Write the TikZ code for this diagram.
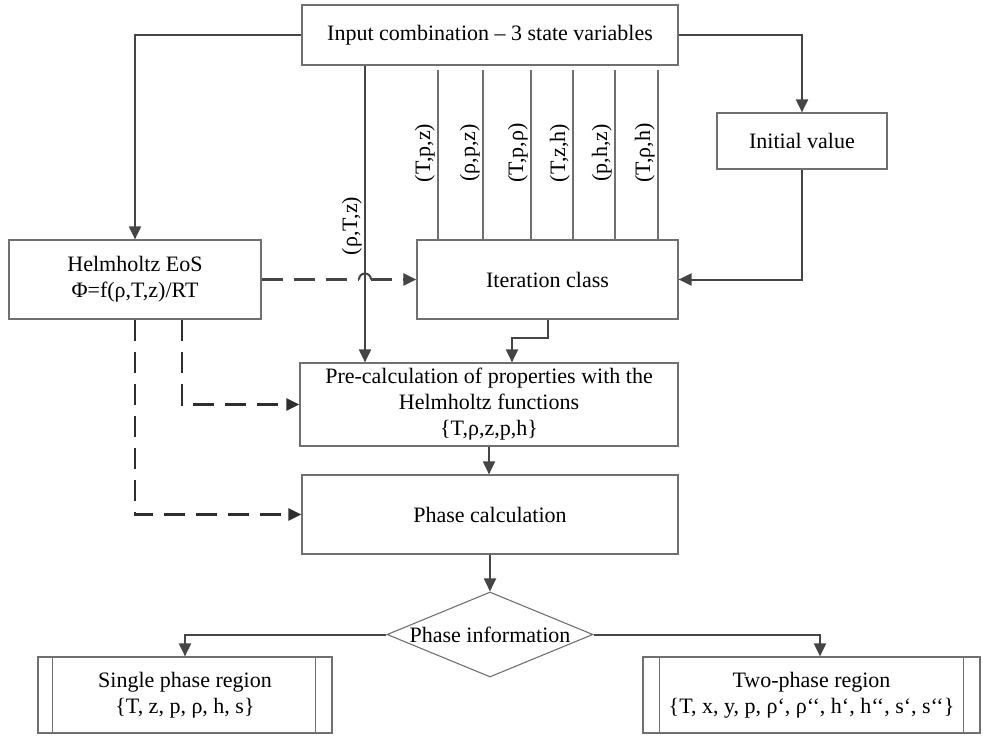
\documentclass[tikz,border=0pt]{standalone}
\usepackage{fontspec}
\setmainfont{Liberation Serif}
\usetikzlibrary{arrows.meta,shapes.geometric,calc}

\definecolor{boxgray}{HTML}{707070}
\definecolor{linegray}{HTML}{454545}
\definecolor{dashgray}{HTML}{2E2E2E}

\begin{document}
\begin{tikzpicture}[x=1pt,y=-1pt,
  font=\fontsize{22}{26}\selectfont,
  box/.style={draw=boxgray,line width=1.2pt,align=center,inner sep=0pt},
  conn/.style={draw=linegray,line width=2pt,-{Triangle[length=13pt,width=12pt]}},
  plain/.style={draw=boxgray,line width=1.1pt},
  dashln/.style={draw=dashgray,line width=2.6pt,dash pattern=on 21pt off 11pt},
  dashconn/.style={dashln,-{Triangle[length=13pt,width=12pt]}},
  vlab/.style={rotate=90,anchor=south,inner sep=2pt}]

\useasboundingbox (0,0) rectangle (983,736);

% process boxes
\node[box,minimum width=376pt,minimum height=60pt] (in) at (490,35) {Input combination – 3 state variables};
\node[box,minimum width=252pt,minimum height=79pt] (hh) at (135,279.5) {Helmholtz EoS\\Φ=f(ρ,T,z)/RT};
\node[box,minimum width=261pt,minimum height=79pt] (it) at (547.5,279.5) {Iteration class};
\node[box,minimum width=170pt,minimum height=56pt] (iv) at (802,141) {Initial value};
\node[box,minimum width=378pt,minimum height=83pt] (pre) at (489,404.5) {Pre-calculation of properties with the\\Helmholtz functions\\\{T,ρ,z,p,h\}};
\node[box,minimum width=376pt,minimum height=79pt] (pc) at (490,514.5) {Phase calculation};
\node[diamond,draw=boxgray,line width=1.1pt,minimum width=206pt,minimum height=85pt,inner sep=0pt] (dia) at (490,634.5) {};
\node (diatext) at (dia) {Phase information};
\node[box,minimum width=294pt,minimum height=76pt] (sp) at (185,695) {Single phase region\\\{T, z, p, ρ, h, s\}};
\node[box,minimum width=337pt,minimum height=76pt] (tp) at (811.5,695) {Two-phase region\\\{T, x, y, p, ρ‘, ρ‘‘, h‘, h‘‘, s‘, s‘‘\}};

% predefined-process side bars
\draw[plain] ($(sp.north west)+(15,0)$) -- ($(sp.south west)+(15,0)$);
\draw[plain] ($(sp.north east)+(-17,0)$) -- ($(sp.south east)+(-17,0)$);
\draw[plain] ($(tp.north west)+(17,0)$) -- ($(tp.south west)+(17,0)$);
\draw[plain] ($(tp.north east)+(-17,0)$) -- ($(tp.south east)+(-17,0)$);

% input combinations fed to the iteration class
\foreach \i/\x/\lab in {1/438/{(T,p,z)},2/483/{(ρ,p,z)},3/531/{(T,p,ρ)},4/573/{(T,z,h)},5/615/{(p,h,z)},6/658/{(T,ρ,h)}}{
  \coordinate (t\i) at (\x,70);
  \draw[plain] (t\i) -- (t\i |- it.north);
  \node[vlab] (lab\i) at (\x-1,153) {\lab};
}

% direct path (rho,T,z)
\coordinate (rtz) at (365,0);
\draw[conn] (in.south -| rtz) -- (pre.north -| rtz);
\node[vlab] (labrtz) at (364,226) {(ρ,T,z)};

% solid connectors
\draw[conn] (in.west) -| (hh.north);
\draw[conn] (in.east) -| (iv.north);
\draw[conn] (iv.south) |- (it.east);
\coordinate (b1) at (512,338);
\draw[conn] (it.south) |- (b1) -- (b1 |- pre.north);
\draw[conn] (pre.south) -- (pre.south |- pc.north);
\draw[conn] (pc.south) -- (dia.north);
\draw[conn] (dia.west) -| (sp.north);
\coordinate (b2) at (820,0);
\draw[conn] (dia.east) -| (b2 |- tp.north);

% dashed EoS connectors, with a hop over the (rho,T,z) line
\coordinate (hopc) at (rtz |- hh.east);
\draw[dashln,draw=linegray,line width=2.3pt] (hh.east) -- ([xshift=-6pt]hopc);
\draw[draw=linegray,line width=2pt] ([xshift=-6pt]hopc) arc[start angle=180,end angle=0,radius=6pt];
\draw[dashconn,draw=linegray,line width=2.3pt] ([xshift=6pt]hopc) -- (it.west);
\coordinate (d1) at (182,0);
\draw[dashconn] (hh.south -| d1) |- (pre.west);
\draw[dashconn] (hh.south) |- (pc.west);
\end{tikzpicture}
\end{document}
